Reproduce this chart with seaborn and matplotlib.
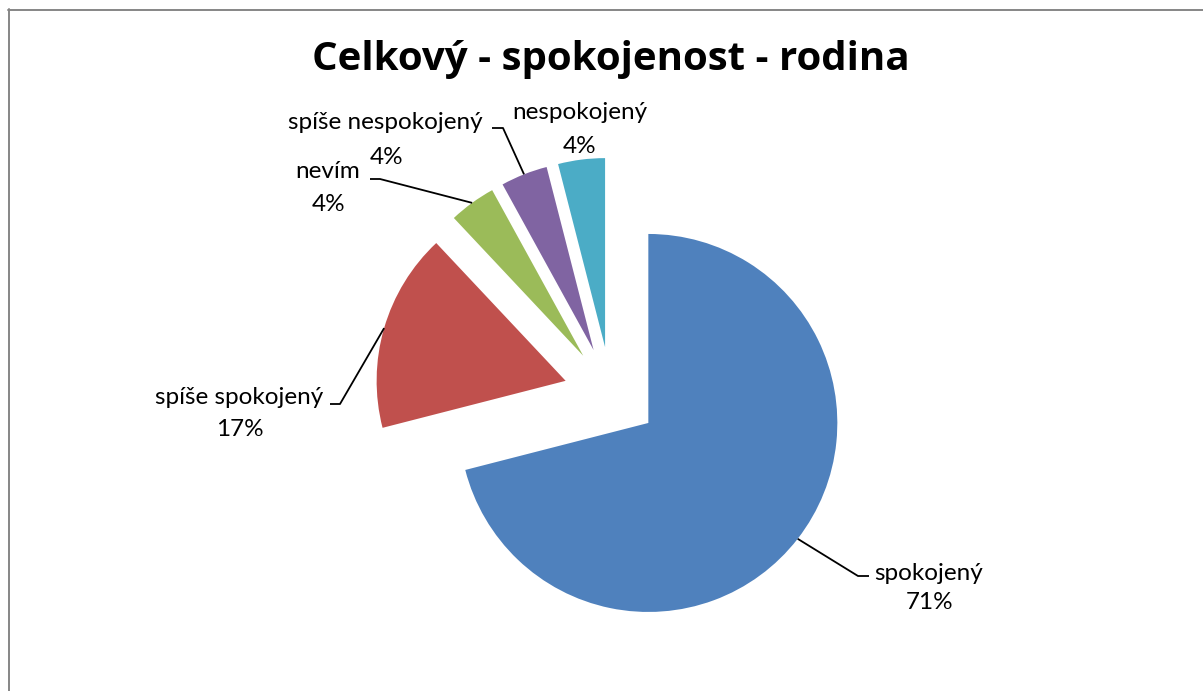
import matplotlib
matplotlib.use("Agg")
import matplotlib.pyplot as plt
from matplotlib.lines import Line2D
import numpy as np
import seaborn as sns

# Survey answers and their shares (percent)
categories = ["spokojený", "spíše spokojený", "nevím", "spíše nespokojený", "nespokojený"]
values = [71, 17, 4, 4, 4]
colors = ["#4F81BD", "#C0504D", "#9BBB59", "#8064A2", "#4BACC6"]
title = "Celkový - spokojenost - rodina"

sns.set_theme(style="white")
plt.rcParams["font.family"] = ["Lato", "DejaVu Sans"]

W, H, DPI = 1203, 691, 100
fig = plt.figure(figsize=(W / DPI, H / DPI), dpi=DPI)
fig.patch.set_facecolor("white")

# pie centre and radius in pixels; axes span the whole figure
CX, CY, R = 611, 394, 189
ax = fig.add_axes([0, 0, 1, 1])


def px(x, y):
    """pixel position (from top-left) -> data coordinates of the pie axes"""
    return (x - CX) / R, (CY - y) / R


EXPLODE = 0.25
wedges, _ = ax.pie(values, colors=colors, startangle=90, counterclock=False,
                   explode=[EXPLODE] * len(values), radius=1,
                   wedgeprops=dict(linewidth=0))
ax.set_xlim(-CX / R, (W - CX) / R)
ax.set_ylim(-(H - CY) / R, CY / R)
ax.set_aspect("auto")
ax.axis("off")

# label layout: (name baseline px, percent baseline px, elbow px, end px)
layout = [
    ((929, 580), (930, 609), (858, 576), (869, 576)),
    ((239, 404), (240, 436), (340, 404), (330, 404)),
    ((328, 178), (329, 211), (380, 179), (370, 179)),
    ((385, 129), (387, 164), (503, 128), (492, 128)),
    ((580, 119), (580, 153), None, None),
]

FS = 17.5
for w, cat, val, (npos, ppos, elbow, end) in zip(wedges, categories, values, layout):
    mid = np.deg2rad((w.theta1 + w.theta2) / 2)
    anchor = ((1 + EXPLODE) * np.cos(mid), (1 + EXPLODE) * np.sin(mid))
    ax.text(*px(*npos), cat, ha="center", va="baseline", fontsize=FS, color="black")
    ax.text(*px(*ppos), f"{val}%", ha="center", va="baseline", fontsize=FS, color="black")
    if elbow is not None:
        ex, ey = px(*elbow)
        nx, ny = px(*end)
        ax.plot([anchor[0], ex, nx], [anchor[1], ey, ny], color="black", lw=1.3,
                solid_capstyle="butt")

ax.text(*px(611, 70), title, ha="center", va="baseline", fontsize=29,
        fontweight="bold", color="black", family=["Open Sans", "DejaVu Sans"])

# chart area frame
fc = "#868686"
fig.add_artist(Line2D([8.5 / W, 8.5 / W], [0, 1 - 9 / H], transform=fig.transFigure,
                      color=fc, lw=1.4))
fig.add_artist(Line2D([8 / W, 1], [1 - 9.5 / H, 1 - 9.5 / H], transform=fig.transFigure,
                      color=fc, lw=1.4))

fig.savefig("out.png", dpi=DPI, facecolor="white")
